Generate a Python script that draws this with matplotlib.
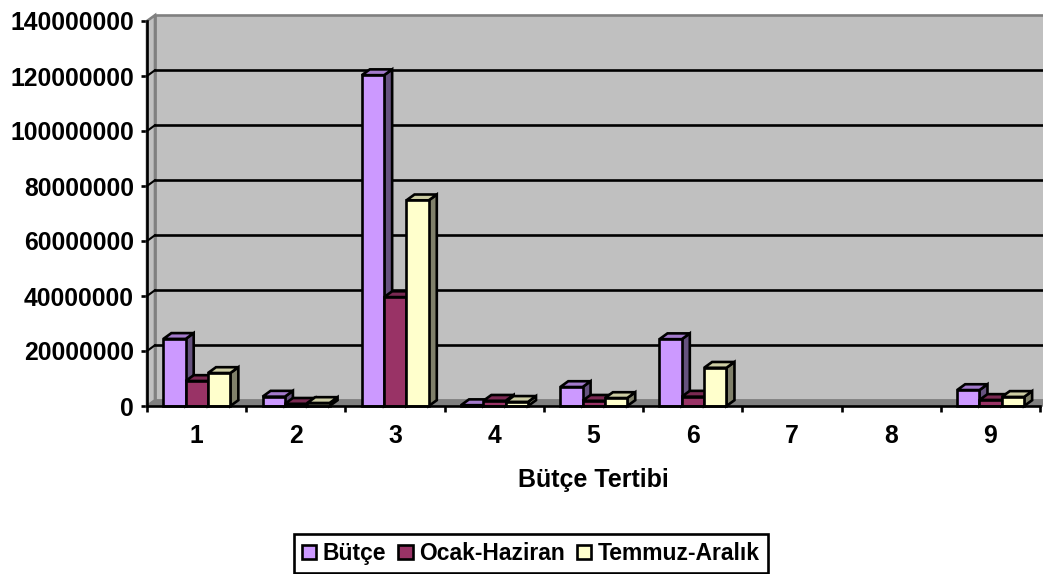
'''
3D-look clustered column chart of the budget figures per Bütçe Tertibi.
'''
import matplotlib
matplotlib.use('Agg')
import matplotlib.pyplot as plt
from matplotlib.patches import Polygon, Rectangle

plt.rcParams['font.family'] = ['Liberation Sans', 'DejaVu Sans']
plt.rcParams['font.weight'] = 'bold'

# Data
categories = ['1', '2', '3', '4', '5', '6', '7', '8', '9']
butce = [24400000, 3400000, 120300000, 300000, 6900000, 24300000, 0, 0, 5800000]
ocak_haziran = [9100000, 800000, 39600000, 1900000, 1900000, 3400000, 0, 0, 2200000]
temmuz_aralik = [12000000, 1100000, 74800000, 1500000, 2900000, 13900000, 0, 0, 3300000]
y_ticks = [0, 20000000, 40000000, 60000000, 80000000, 100000000, 120000000, 140000000]

series = [
    ('Bütçe', butce, '#CC99FF', '#A37ACC', '#66527F'),
    ('Ocak-Haziran', ocak_haziran, '#993366', '#7A2952', '#5C1F3D'),
    ('Temmuz-Aralık', temmuz_aralik, '#FFFFCC', '#CCCCA3', '#80806A'),
]

# Figure size and depth of the fake 3D, in pixels
W, H = 1043, 574
DX, DY = 8, 5.8
fig = plt.figure(figsize=(W / 100, H / 100), dpi=100)

# Axes is the front plane of the chart
left, right, bottom, top = 147, 1040, 406, 21
ax = fig.add_axes([left / W, 1 - bottom / H, (right - left) / W, (bottom - top) / H])
ax.set_xlim(0, len(categories))
ax.set_ylim(0, 140000000)
ax.patch.set_visible(False)
for name in ['top', 'right']:
    ax.spines[name].set_visible(False)
for name in ['left', 'bottom']:
    ax.spines[name].set_linewidth(1.9)
    ax.spines[name].set_zorder(6)

y_max = y_ticks[-1]
x_max = len(categories) + 0.1

# Depth offset in data units
inv = ax.transData.inverted()
x_off = inv.transform((DX, 0))[0] - inv.transform((0, 0))[0]
y_off = inv.transform((0, DY))[1] - inv.transform((0, 0))[1]

# Walls and floor
ax.add_patch(Rectangle((x_off, y_off), x_max, y_max, facecolor='#C0C0C0',
                       edgecolor='#808080', linewidth=1.9, clip_on=False, zorder=1))
ax.add_patch(Polygon([(0, 0), (x_off, y_off), (x_off, y_max + y_off), (0, y_max)],
                     facecolor='#C0C0C0', edgecolor='#808080', linewidth=1.9, clip_on=False, zorder=2))
ax.add_patch(Polygon([(0, 0), (x_off, y_off), (x_max + x_off, y_off), (x_max, 0)],
                     facecolor='#808080', edgecolor='#808080', linewidth=1.0, clip_on=False, zorder=2))

# Gridlines on the back wall, with the short diagonals on the side wall
for tick in y_ticks[1:-1]:
    ax.plot([x_off, x_max + x_off], [tick + y_off, tick + y_off], color='black', lw=1.9,
            clip_on=False, zorder=3)
    ax.plot([0, x_off], [tick, tick + y_off], color='black', lw=1.5, clip_on=False, zorder=3)

# Bars, each one a front face, a top face and a side face
bar_w = 0.225
start = 0.165
for s, (label, values, front, top_c, side) in enumerate(series):
    for i, v in enumerate(values):
        if v == 0:
            continue
        x0 = i + start + s * bar_w
        x1 = x0 + bar_w
        z = 4 + 0.01 * s
        ax.add_patch(Polygon([(x1, 0), (x1 + x_off, y_off), (x1 + x_off, v + y_off), (x1, v)],
                             facecolor=side, edgecolor='black', linewidth=1.9, clip_on=False, zorder=z))
        ax.add_patch(Polygon([(x0, v), (x0 + x_off, v + y_off), (x1 + x_off, v + y_off), (x1, v)],
                             facecolor=top_c, edgecolor='black', linewidth=1.9, clip_on=False, zorder=z))
        ax.add_patch(Rectangle((x0, 0), bar_w, v, facecolor=front, edgecolor='black',
                               linewidth=1.9, clip_on=False, zorder=z))

# Axis ticks and labels
ax.set_yticks(y_ticks)
ax.set_yticklabels([str(t) for t in y_ticks], fontsize=17.8)
ax.set_xticks(range(len(categories) + 1))
ax.set_xticklabels([''] * (len(categories) + 1))
ax.tick_params(axis='y', length=4.5, width=1.9, pad=5)
ax.tick_params(axis='x', length=4.5, width=1.9)
for i, name in enumerate(categories):
    ax.annotate(name, (i + 0.5, 0), xytext=(0, -30), textcoords='offset pixels',
                ha='center', va='center', fontsize=17.8, annotation_clip=False)
fig.text(593 / W, 1 - 480 / H, 'Bütçe Tertibi', ha='center', va='center', fontsize=18)

# Legend
handles = [Rectangle((0, 0), 1, 1, facecolor=c[2], edgecolor='black', linewidth=1.9) for c in series]
leg = fig.legend(handles, [c[0] for c in series], ncol=3, loc='center',
                 bbox_to_anchor=(531 / W, 1 - 553.5 / H), fontsize=16.5, frameon=True, fancybox=False,
                 edgecolor='black', framealpha=1, handlelength=0.62, handleheight=0.62,
                 handletextpad=0.3, columnspacing=0.52, borderpad=0.35, borderaxespad=0)
leg.get_frame().set_linewidth(1.9)

fig.savefig('out.png', dpi=100)
